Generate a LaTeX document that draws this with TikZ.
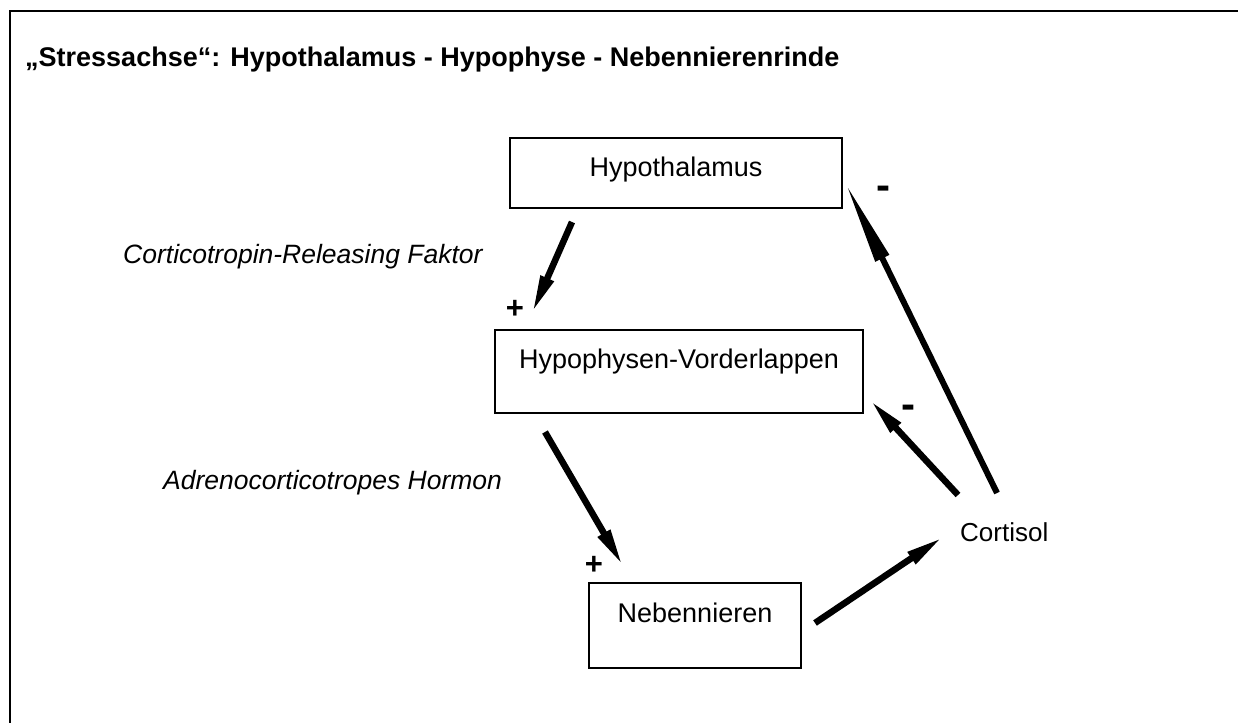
\documentclass[tikz,border=0pt]{standalone}
\usepackage{fontspec}
\setmainfont{Liberation Sans}
\usetikzlibrary{arrows.meta}
\begin{document}
\begin{tikzpicture}[x=1pt,y=-1pt,
  box/.style={draw,line width=1.8pt,inner sep=0pt,anchor=base,font=\fontsize{27}{32}\selectfont},
  beschr/.style={anchor=base west,inner sep=0pt,font=\fontsize{26.5}{32}\selectfont\itshape},
  zeichen/.style={inner sep=0pt,font=\fontsize{31}{36}\selectfont\bfseries},
  minus/.style={inner sep=0pt,font=\fontsize{42}{46}\selectfont\bfseries},
  pfeil/.style={line width=6.5pt,-{Triangle[length=38pt,width=13pt]}}]
\useasboundingbox (0,0) rectangle (1238,722);
\draw[line width=2.5pt] (10,724) -- (10,11) -- (1240,11);
\node[anchor=base west,inner sep=0pt,font=\fontsize{27}{32}\selectfont\bfseries] (titel) at (25,67)
  {„Stressachse“: Hypothalamus - Hypophyse - Nebennierenrinde};
\node[box,minimum width=332pt,text height=39pt,text depth=31pt] (hypo) at (676,177) {Hypothalamus};
\node[box,minimum width=368pt,text height=38pt,text depth=45pt] (hvl) at (679,368) {Hypophysen-Vorderlappen};
\node[box,minimum width=212pt,text height=39pt,text depth=46pt] (nn) at (695,622) {Nebennieren};
\node[anchor=base west,inner sep=0pt,font=\fontsize{26}{31}\selectfont] (cortisol) at (960,541) {Cortisol};
\node[beschr] (crf) at (123,263) {Corticotropin-Releasing Faktor};
\node[beschr] (acth) at (163,489) {Adrenocorticotropes Hormon};
\node[zeichen] (plusA) at (515,309) {+};
\node[zeichen] (plusB) at (594,565) {+};
\node[minus] (minusA) at (883,193) {-};
\node[minus] (minusB) at (908,412) {-};
% Pfeilenden
\coordinate (crfA) at (572,222);   \coordinate (crfB) at (532,313);
\coordinate (acthA) at (545,432);  \coordinate (acthB) at (623,566);
\coordinate (nnA) at (815,623);    \coordinate (nnB) at (943,537);
\coordinate (rkA) at (958,495);    \coordinate (rkB) at (870,400);
\coordinate (rkC) at (997,493);    \coordinate (rkD) at (845,182);
\draw[pfeil] (crfA) -- (crfB);
\draw[pfeil] (acthA) -- (acthB);
\draw[pfeil] (nnA) -- (nnB);
\draw[pfeil] (rkA) -- (rkB);
\draw[line width=6pt,-{Triangle[length=85pt,width=14pt]}] (rkC) -- (rkD);
\end{tikzpicture}
\end{document}
